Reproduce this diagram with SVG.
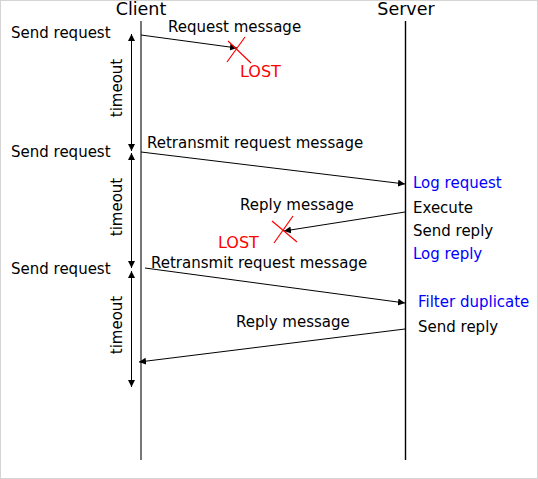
<svg xmlns="http://www.w3.org/2000/svg" width="538" height="479" viewBox="0 0 538 479">
<defs>
<style>
text{font-family:"DejaVu Sans","Liberation Sans",sans-serif;font-size:15px;fill:#000}
.hdr{font-size:17.5px;text-anchor:middle}
.red{fill:#ff0000;font-size:16px}
.blue{fill:#0000ff}
.msg{stroke:#000;stroke-width:1;fill:none;marker-end:url(#ah)}
.to{stroke:#000;stroke-width:1;fill:none;marker-start:url(#ah2);marker-end:url(#ah)}
.x{stroke:#ff0000;stroke-width:1.2}
.tl{text-anchor:middle}
</style>
<marker id="ah" markerWidth="8" markerHeight="8" refX="7" refY="3.5" orient="auto" markerUnits="userSpaceOnUse">
<path d="M0,0 L7,3.5 L0,7 z" fill="#000"/>
</marker>
<marker id="ah2" markerWidth="8" markerHeight="8" refX="0" refY="3.5" orient="auto" markerUnits="userSpaceOnUse">
<path d="M7,0 L0,3.5 L7,7 z" fill="#000"/>
</marker>
</defs>
<rect x="0.5" y="0.5" width="537" height="478" fill="#fff" stroke="#d4d4d4"/>
<g id="client">
<text class="hdr" x="141" y="15">Client</text>
<line x1="141" y1="21" x2="141" y2="460" stroke="#555" stroke-width="1.6"/>
</g>
<g id="server">
<text class="hdr" x="406" y="15">Server</text>
<line x1="405.5" y1="21" x2="405.5" y2="460" stroke="#000" stroke-width="1.4"/>
</g>
<g id="client-labels">
<text x="11" y="38">Send request</text>
<text x="11" y="157">Send request</text>
<text x="11" y="274">Send request</text>
</g>
<g id="timeouts">
<line class="to" x1="131.5" y1="34" x2="131.5" y2="151"/>
<line class="to" x1="131.5" y1="153" x2="131.5" y2="268"/>
<line class="to" x1="131.5" y1="271" x2="131.5" y2="387"/>
<text class="tl" transform="translate(122,88) rotate(-90)">timeout</text>
<text class="tl" transform="translate(122,207) rotate(-90)">timeout</text>
<text class="tl" transform="translate(122,325) rotate(-90)">timeout</text>
</g>
<g id="connectors">
<line class="msg" x1="141" y1="35" x2="237" y2="48"/>
<line class="msg" x1="141" y1="152" x2="405" y2="184"/>
<line class="msg" x1="405" y1="212" x2="284" y2="231"/>
<line class="msg" x1="145" y1="268" x2="405" y2="303"/>
<line class="msg" x1="405" y1="329" x2="139" y2="362"/>
</g>
<g id="msg-labels">
<text x="168" y="32">Request message</text>
<text x="147" y="148">Retransmit request message</text>
<text x="240" y="210">Reply message</text>
<text x="151" y="268">Retransmit request message</text>
<text x="236" y="327">Reply message</text>
</g>
<g id="lost1">
<line class="x" x1="228" y1="41" x2="251" y2="63"/>
<line class="x" x1="245" y1="37" x2="227" y2="62"/>
<text class="red" x="240" y="77">LOST</text>
</g>
<g id="lost2">
<line class="x" x1="272" y1="221" x2="297" y2="242"/>
<line class="x" x1="293" y1="216" x2="274" y2="243"/>
<text class="red" x="218" y="248">LOST</text>
</g>
<g id="server-labels">
<text class="blue" x="413" y="188">Log request</text>
<text x="413" y="213">Execute</text>
<text x="413" y="236">Send reply</text>
<text class="blue" x="413" y="259">Log reply</text>
<text class="blue" x="418" y="307">Filter duplicate</text>
<text x="418" y="332">Send reply</text>
</g>
</svg>
